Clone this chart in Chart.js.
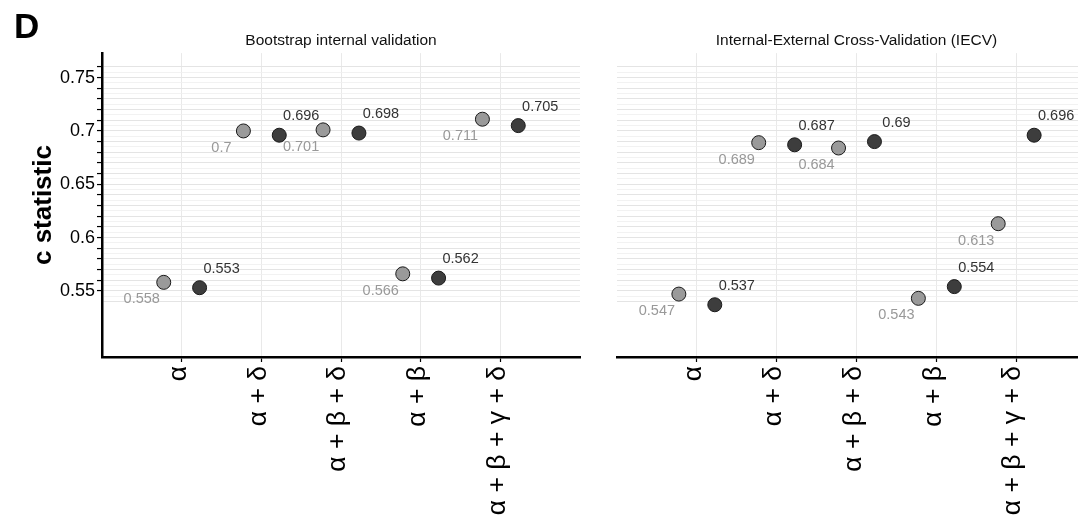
<!DOCTYPE html>
<html><head><meta charset="utf-8">
<script src="https://cdn.jsdelivr.net/npm/chart.js@4.4.0/dist/chart.umd.min.js"></script>
<style>
html,body{margin:0;padding:0;background:#fff;overflow:hidden;width:1078px;height:518px;}
#wrap{position:relative;width:1078px;height:518px;overflow:hidden;background:#fff;}
canvas{position:absolute;top:0;}
#c1{left:0;width:600px;height:518px;}
#c2{left:600px;width:520px;height:518px;}
</style></head><body>
<div id="wrap"><canvas id="c1" width="600" height="518"></canvas><canvas id="c2" width="520" height="518"></canvas></div>
<script>
// ---- data ----
const categories = ['α', 'α + δ', 'α + β + δ', 'α + β', 'α + β + γ + δ'];
const bootstrapLight = [0.558, 0.700, 0.701, 0.566, 0.711];
const bootstrapDark  = [0.553, 0.696, 0.698, 0.562, 0.705];
const iecvLight = [0.547, 0.689, 0.684, 0.543, 0.613];
const iecvDark  = [0.537, 0.687, 0.690, 0.554, 0.696];
const yLabelTicks = [0.55, 0.6, 0.65, 0.7, 0.75];
const yGridFrom = 0.54, yGridTo = 0.76, yGridStep = 0.005;
const panelTitles = ['Bootstrap internal validation', 'Internal-External Cross-Validation (IECV)'];
const yTitle = 'c statistic';
const panelLetter = 'D';

// ---- style ----
const FONT = "'Liberation Sans', Arial, Helvetica, sans-serif";
const LIGHT = '#9a9a9a', DARK = '#3d3d3d';
const dodge = 0.225;

function isMajor(v){ return Math.abs(Math.round(v*100) - v*100) < 1e-6; }
function isLabelTick(v){ return yLabelTicks.some(t => Math.abs(t - v) < 1e-9); }

const pointLabels = {
  id: 'pointLabels',
  afterDatasetsDraw(chart) {
    const ctx = chart.ctx;
    chart.data.datasets.forEach((ds, di) => {
      const meta = chart.getDatasetMeta(di);
      meta.data.forEach((pt, i) => {
        ctx.save();
        ctx.font = '14.5px ' + FONT;
        ctx.fillStyle = ds.labelColor;
        ctx.textAlign = 'center';
        ctx.textBaseline = 'middle';
        ctx.fillText(String(ds.data[i].y), pt.x + ds.labelDx, pt.y + ds.labelDy);
        ctx.restore();
      });
    });
  }
};

const letterPlugin = {
  id: 'letter',
  afterDraw(chart, args, opts) {
    if (!opts.text) return;
    const ctx = chart.ctx;
    ctx.save();
    ctx.font = 'bold 35px ' + FONT;
    ctx.fillStyle = '#000';
    ctx.textAlign = 'left';
    ctx.textBaseline = 'alphabetic';
    ctx.fillText(opts.text, 14, 38);
    ctx.restore();
  }
};

function makeDatasets(light, dark) {
  return [
    { data: light.map((v, i) => ({ x: i + 1 - dodge, y: v })), backgroundColor: LIGHT,
      labelColor: '#999999', labelDx: -22, labelDy: 17 },
    { data: dark.map((v, i) => ({ x: i + 1 + dodge, y: v })), backgroundColor: DARK,
      labelColor: '#333333', labelDx: 22, labelDy: -19 }
  ];
}

function makeChart(el, light, dark, title, isLeft) {
  return new Chart(el, {
    type: 'scatter',
    data: { datasets: makeDatasets(light, dark) },
    plugins: [pointLabels, letterPlugin],
    options: {
      responsive: false,
      animation: false,
      events: [],
      elements: { point: { radius: 7, borderColor: '#1a1a1a', borderWidth: 1 } },
      layout: { padding: isLeft ? { left: 0, right: 20, top: 0, bottom: 0 } : { left: 17, right: 24, top: 0, bottom: 0 } },
      plugins: {
        legend: { display: false },
        tooltip: { enabled: false },
        letter: { text: isLeft ? panelLetter : '' },
        title: { display: true, text: title, fullSize: false, color: '#111',
                 font: { family: FONT, size: 15.5, weight: 'normal' }, padding: { top: 31.5, bottom: 3 } }
      },
      scales: {
        x: {
          type: 'linear', min: 0, max: categories.length + 1,
          afterBuildTicks: s => { s.ticks = categories.map((c, i) => ({ value: i + 1 })); },
          afterFit: s => { s.height = 161; },
          ticks: { autoSkip: false, maxRotation: 90, minRotation: 90, padding: 4, color: '#000',
                   labelOffset: -3,
                   font: { family: FONT, size: 26.5 }, callback: v => categories[v - 1] },
          grid: { color: '#e9e9e9', lineWidth: 1, tickColor: '#000', tickLength: 5, tickWidth: 1.2 },
          border: { display: true, color: '#000', width: 2.5 }
        },
        y: {
          min: 0.488, max: 0.773,
          afterBuildTicks: s => {
            const t = [];
            const n = Math.round((yGridTo - yGridFrom) / yGridStep);
            for (let k = 0; k <= n; k++) t.push({ value: +(yGridFrom + k * yGridStep).toFixed(3) });
            s.ticks = t;
          },
          afterFit: s => { s.width = isLeft ? 102 : 0; },
          ticks: { display: isLeft, autoSkip: false, padding: 2, color: '#000',
                   font: { family: FONT, size: 18 },
                   callback: v => isLabelTick(v) ? String(+v.toFixed(2)) : '' },
          grid: {
            drawTicks: isLeft, tickLength: 5, tickWidth: 1.2,
            color: c => isMajor(c.tick.value) ? '#e4e4e4' : '#efefef',
            lineWidth: c => isMajor(c.tick.value) ? 1.1 : 0.8,
            tickColor: c => (isMajor(c.tick.value) && c.tick.value >= 0.549) ? '#000' : 'rgba(0,0,0,0)'
          },
          border: { display: isLeft, color: '#000', width: 2.5 },
          title: { display: isLeft, text: yTitle, color: '#000',
                   font: { family: FONT, size: 26, weight: 'bold' }, padding: { top: 28, bottom: 0 } }
        }
      }
    }
  });
}

makeChart(document.getElementById('c1'), bootstrapLight, bootstrapDark, panelTitles[0], true);
makeChart(document.getElementById('c2'), iecvLight, iecvDark, panelTitles[1], false);
</script>
</body></html>
